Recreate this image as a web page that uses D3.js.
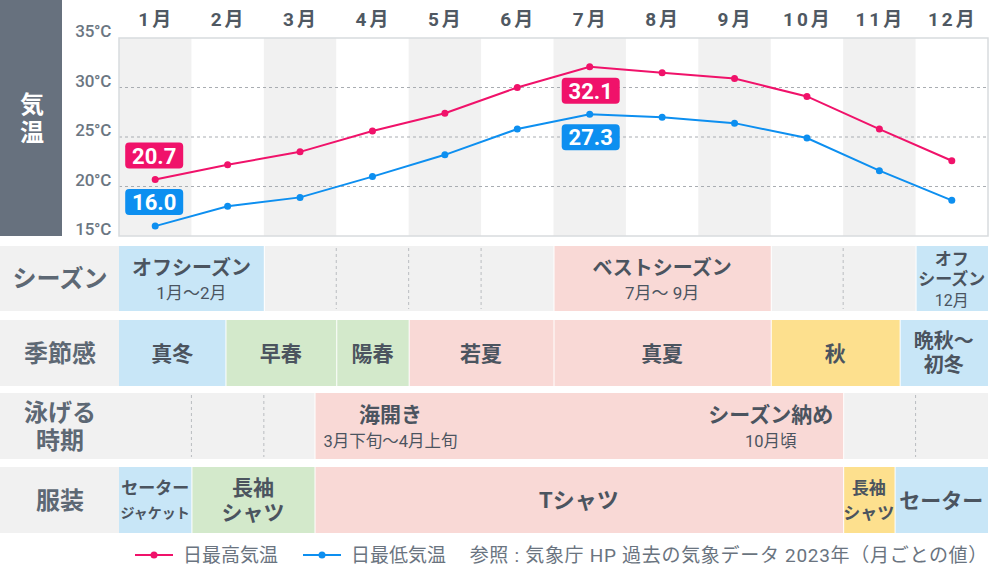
<!DOCTYPE html>
<html><head><meta charset="utf-8">
<script src="https://cdn.jsdelivr.net/npm/d3@7/dist/d3.min.js"></script>
<style>
html,body{margin:0;padding:0;background:#fff;}
svg{display:block;font-family:Roboto,"Noto Sans CJK JP",sans-serif;}
</style></head><body>
<svg id="c" width="992" height="570"></svg>
<script>
const months = ["1月","2月","3月","4月","5月","6月","7月","8月","9月","10月","11月","12月"];
const highTemps = [20.7,22.2,23.5,25.6,27.4,30.0,32.1,31.5,30.9,29.1,25.8,22.6];
const lowTemps  = [16.0,18.0,18.9,21.0,23.2,25.8,27.3,27.0,26.4,24.9,21.6,18.6];
const yTicks = [15,20,25,30,35];
const rowLabels = [["シーズン"],["季節感"],["泳げる","時期"],["服装"]];
const seasonSegs = [
  {s:0,e:2,t:["オフシーズン"],sub:"1月～2月",k:"blue"},
  {s:2,e:6,t:[],k:"gray"},
  {s:6,e:9,t:["ベストシーズン"],sub:"7月～ 9月",k:"pink"},
  {s:9,e:11,t:[],k:"gray"},
  {s:11,e:12,t:["オフ","シーズン"],sub:"12月",k:"blue"}
];
const feelSegs = [
  {s:0,e:1.47,t:["真冬"],k:"blue"},
  {s:1.47,e:3,t:["早春"],k:"green"},
  {s:3,e:4,t:["陽春"],k:"green"},
  {s:4,e:6,t:["若夏"],k:"pink"},
  {s:6,e:9,t:["真夏"],k:"pink"},
  {s:9,e:10.78,t:["秋"],k:"yellow"},
  {s:10.78,e:12,t:["晩秋～","初冬"],k:"blue"}
];
const swimSegs = [
  {s:0,e:2.7,t:[],k:"gray"},
  {s:2.7,e:10,t:[],k:"pink"},
  {s:10,e:12,t:[],k:"gray"}
];
const swimNotes = [
  {m:3.75,t:"海開き",sub:"3月下旬～4月上旬"},
  {m:9,t:"シーズン納め",sub:"10月頃"}
];
const clothSegs = [
  {s:0,e:1,t:["セーター","ジャケット"],k:"blue",fs:[17,14]},
  {s:1,e:2.7,t:["長袖","シャツ"],k:"green",fs:[21,21]},
  {s:2.7,e:10,t:["Tシャツ"],k:"pink",fs:[22]},
  {s:10,e:10.71,t:["長袖","シャツ"],k:"yellow",fs:[17,17]},
  {s:10.71,e:12,t:["セーター"],k:"blue",fs:[21]}
];
const legendItems = [{name:"日最高気温",c:"pink"},{name:"日最低気温",c:"blue"}];
const sourceText = "参照 : 気象庁 HP 過去の気象データ 2023年（月ごとの値）";

const fills = {blue:"#c8e6f7",green:"#d3e9cb",pink:"#f9d9d6",yellow:"#fde08e",gray:"#f1f1f1"};
const lineCol = {pink:"#f0126a",blue:"#0d8ff0"};
const textCol = "#4b545f", labCol = "#5d6874";

const svg = d3.select("#c");
const L=119, R=988, T=38, B=236;
const xm = d3.scaleLinear().domain([0,12]).range([L,R]);
const xc = i => xm(i+0.5);
const y = d3.scaleLinear().domain([15,35]).range([B,T]);

svg.append("rect").attr("x",0).attr("y",0).attr("width",62).attr("height",B).attr("fill","#67717e");
["気","温"].forEach((c,i)=>svg.append("text").attr("x",32).attr("y",113+i*28).attr("text-anchor","middle")
  .attr("font-size",24).attr("font-weight",700).attr("fill","#fff").text(c));

months.forEach((m,i)=>{
  if(i%2===0) svg.append("rect").attr("x",xm(i)).attr("y",T).attr("width",xm(i+1)-xm(i)).attr("height",B-T).attr("fill","#f1f1f1");
  svg.append("text").attr("x",xc(i)+1).attr("y",26).attr("text-anchor","middle").attr("font-size",19)
    .attr("font-weight",700).attr("fill","#4f5862").attr("letter-spacing","3px").text(m);
});
[20,25,30].forEach(v=>svg.append("line").attr("x1",L).attr("x2",R).attr("y1",y(v)).attr("y2",y(v))
  .attr("stroke","#a9adb2").attr("stroke-dasharray","3,3").attr("stroke-width",1));
svg.append("rect").attr("x",L).attr("y",T).attr("width",R-L).attr("height",B-T).attr("fill","none")
  .attr("stroke","#d8dbde").attr("stroke-width",1.5);
yTicks.forEach(v=>svg.append("text").attr("x",111).attr("y",y(v)-1).attr("text-anchor","end")
  .attr("font-size",17).attr("font-weight",500).attr("fill","#6b7682").attr("letter-spacing","-0.3px").text(v+"°C"));

[[highTemps,"pink"],[lowTemps,"blue"]].forEach(([d,c])=>{
  svg.append("path").datum(d).attr("fill","none").attr("stroke",lineCol[c]).attr("stroke-width",2)
    .attr("d",d3.line().x((v,i)=>xc(i)).y(v=>y(v)));
  svg.selectAll(null).data(d).enter().append("circle").attr("cx",(v,i)=>xc(i)).attr("cy",v=>y(v)).attr("r",3.5).attr("fill",lineCol[c]);
});
function badge(cx,cy,txt,c){
  svg.append("rect").attr("x",cx-29).attr("y",cy-13).attr("width",58).attr("height",26).attr("rx",4).attr("fill",lineCol[c]);
  svg.append("text").attr("x",cx).attr("y",cy+8).attr("text-anchor","middle").attr("font-size",22)
    .attr("font-weight",700).attr("fill","#fff").text(txt);
}
badge(xc(0)-1, y(highTemps[0])-24, highTemps[0].toFixed(1),"pink");
badge(xc(0)-1, y(lowTemps[0])-24, lowTemps[0].toFixed(1),"blue");
badge(xc(6)+1, y(highTemps[6])+24, highTemps[6].toFixed(1),"pink");
badge(xc(6)+1, y(lowTemps[6])+23, lowTemps[6].toFixed(1),"blue");

const rows = [{y0:246,y1:311},{y0:320,y1:386},{y0:393,y1:459},{y0:467,y1:533}];
rows.forEach((r,i)=>{
  svg.append("rect").attr("x",0).attr("y",r.y0).attr("width",L).attr("height",r.y1-r.y0).attr("fill","#f1f1f1");
  const lines=rowLabels[i], mid=(r.y0+r.y1)/2, lh=28;
  lines.forEach((t,j)=>svg.append("text").attr("x",60).attr("y",mid+8.5+(j-(lines.length-1)/2)*lh)
    .attr("text-anchor","middle").attr("font-size",24).attr("font-weight",700).attr("fill",labCol).text(t));
});
function drawSegs(segs,r){
  segs.forEach(s=>{
    const x0=xm(s.s)+(s.s>0?1:0), x1=xm(s.e);
    svg.append("rect").attr("x",x0).attr("y",r.y0).attr("width",x1-x0).attr("height",r.y1-r.y0).attr("fill",fills[s.k]);
    if(s.k==="gray"){
      for(let m=Math.ceil(s.s+0.001);m<s.e;m++){
        svg.append("line").attr("x1",xm(m)).attr("x2",xm(m)).attr("y1",r.y0+2).attr("y2",r.y1-2)
          .attr("stroke","#b9bcc0").attr("stroke-dasharray","3,3");
      }
    }
  });
}
drawSegs(seasonSegs,rows[0]);drawSegs(feelSegs,rows[1]);drawSegs(swimSegs,rows[2]);drawSegs(clothSegs,rows[3]);

seasonSegs.filter(s=>s.t.length).forEach(s=>{
  const cx=(xm(s.s)+xm(s.e))/2;
  if(s.t.length===1){
    svg.append("text").attr("x",cx).attr("y",275).attr("text-anchor","middle").attr("font-size",20).attr("font-weight",700).attr("fill",textCol).text(s.t[0]);
    svg.append("text").attr("x",cx).attr("y",299).attr("text-anchor","middle").attr("font-size",17).attr("fill",textCol).text(s.sub);
  } else {
    s.t.forEach((t,j)=>svg.append("text").attr("x",cx).attr("y",265+j*20).attr("text-anchor","middle").attr("font-size",17).attr("font-weight",700).attr("fill",textCol).text(t));
    svg.append("text").attr("x",cx).attr("y",306).attr("text-anchor","middle").attr("font-size",16).attr("fill",textCol).text(s.sub);
  }
});
feelSegs.forEach(s=>{
  const cx=(xm(s.s)+xm(s.e))/2, mid=(rows[1].y0+rows[1].y1)/2, f=s.t.length>1?20:21;
  s.t.forEach((t,j)=>svg.append("text").attr("x",cx).attr("y",mid+f*0.36+(j-(s.t.length-1)/2)*24)
    .attr("text-anchor","middle").attr("font-size",f).attr("font-weight",700).attr("fill",textCol).text(t));
});
clothSegs.forEach(s=>{
  const cx=(xm(s.s)+xm(s.e))/2, mid=(rows[3].y0+rows[3].y1)/2;
  s.t.forEach((t,j)=>svg.append("text").attr("x",cx).attr("y",mid+s.fs[j]*0.36+(j-(s.t.length-1)/2)*25)
    .attr("text-anchor","middle").attr("font-size",s.fs[j]).attr("font-weight",700).attr("fill",textCol).text(t));
});
swimNotes.forEach(n=>{
  const cx=xm(n.m);
  svg.append("text").attr("x",cx).attr("y",422).attr("text-anchor","middle").attr("font-size",21).attr("font-weight",700).attr("fill",textCol).text(n.t);
  svg.append("text").attr("x",cx).attr("y",447).attr("text-anchor","middle").attr("font-size",16.5).attr("fill",textCol).text(n.sub);
});

const lg=svg.append("g").attr("font-size",19).attr("fill","#6a7480");
let lx=135;
legendItems.forEach(it=>{
  lg.append("line").attr("x1",lx).attr("x2",lx+38).attr("y1",555).attr("y2",555).attr("stroke",lineCol[it.c]).attr("stroke-width",2);
  lg.append("circle").attr("cx",lx+19).attr("cy",555).attr("r",3.5).attr("fill",lineCol[it.c]);
  lg.append("text").attr("x",lx+48).attr("y",562).text(it.name);
  lx += 168;
});
lg.append("text").attr("x",988).attr("y",562).attr("text-anchor","end").attr("letter-spacing","0.7px").text(sourceText);
</script></body></html>
